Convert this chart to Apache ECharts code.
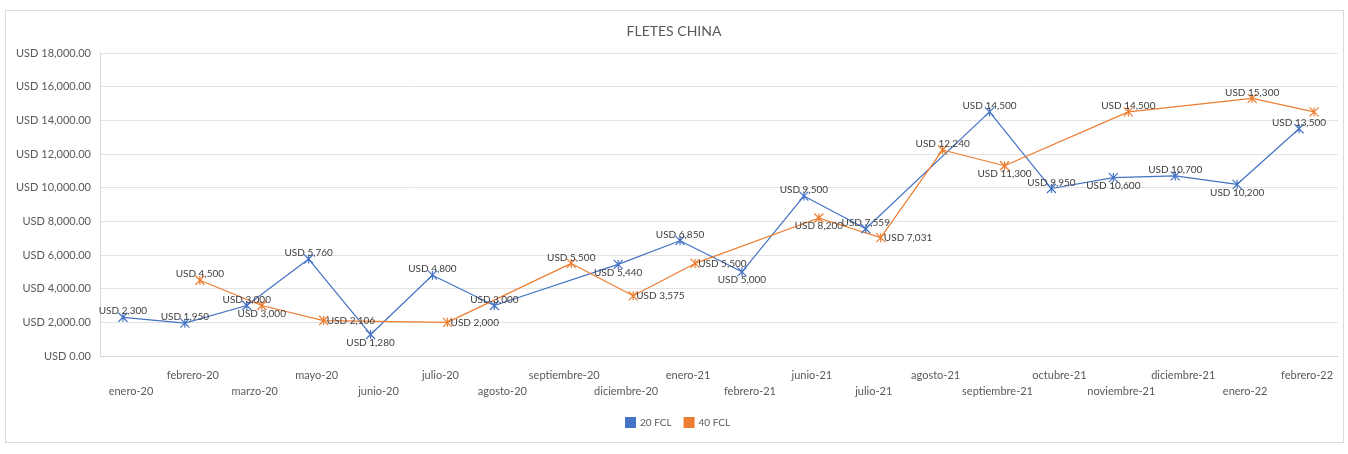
<!DOCTYPE html>
<html>
<head>
<meta charset="utf-8">
<title>FLETES CHINA</title>
<script src="https://cdn.jsdelivr.net/npm/echarts@6/dist/echarts.min.js"></script>
<style>
  html, body { margin: 0; padding: 0; background: #fff; }
  #frame { position: absolute; left: 5px; top: 10px; width: 1337px; height: 431px; border: 1px solid #dadada; }
  #chart { position: absolute; left: 0; top: 0; width: 1348px; height: 454px; }
</style>
</head>
<body>
<div id="frame"></div>
<div id="chart"></div>
<script>
// meses (eje X)
const meses = [
  "enero-20", "febrero-20", "marzo-20", "mayo-20", "junio-20", "julio-20",
  "agosto-20", "septiembre-20", "diciembre-20", "enero-21", "febrero-21",
  "junio-21", "julio-21", "agosto-21", "septiembre-21", "octubre-21",
  "noviembre-21", "diciembre-21", "enero-22", "febrero-22"
];
// contenedor de 20 pies
const fcl20 = [2300, 1950, 3000, 5760, 1280, 4800, 3000, null, 5440, 6850, 5000,
  9500, 7559, null, 14500, 9950, 10600, 10700, 10200, 13500];
// contenedor de 40 pies
const fcl40 = [null, 4500, 3000, 2106, null, 2000, null, 5500, 3575, 5500, null,
  8200, 7031, 12240, 11300, null, 14500, null, 15300, 14500];
// ticks del eje Y
const yTicks = [0, 2000, 4000, 6000, 8000, 10000, 12000, 14000, 16000, 18000];

// posicion de etiquetas (como en el excel)
const pos20 = ["top", "top", "top", "top", "bottom", "top", "top", "top", "bottom", "top", "bottom",
  "top", "top", "top", "top", "top", "bottom", "top", "bottom", "top"];
const pos40 = ["top", "top", "bottom", "right", "top", "right", "top", "top", "right", "right", "top",
  "bottom", "right", "top", "bottom", "top", "top", "top", "top", "none"];
const distancia = { top: -4, bottom: -2, right: -2 };

const AZUL = "#4472C4";
const NARANJA = "#ED7D31";
const GRIS = "#595959";
const FONT = "Lato, 'Open Sans', sans-serif";
const estrella = "path://M0,0L10,10M10,0L0,10M5,0L5,10";

const usd = v => "USD " + Number(v).toLocaleString("en-US");

function armarDatos(vals, pos) {
  return vals.map((v, i) => ({
    value: v == null ? "-" : v,
    label: pos[i] === "none" ? { show: false } : { position: pos[i], distance: distancia[pos[i]] }
  }));
}

function serie(name, vals, pos, color, idx) {
  return {
    name: name,
    type: "line",
    xAxisIndex: idx,
    yAxisIndex: idx,
    data: armarDatos(vals, pos),
    connectNulls: true,
    symbol: estrella,
    symbolSize: 9,
    lineStyle: { color: color, width: 1.2 },
    itemStyle: { color: color, borderColor: color, borderWidth: 1.2 },
    label: {
      show: true,
      color: "#404040",
      fontSize: 10,
      fontFamily: FONT,
      formatter: p => usd(p.value)
    }
  };
}

const yMax = yTicks[yTicks.length - 1];
const yStep = yTicks[1] - yTicks[0];

const ejeOculto = gi => ({
  type: "category", gridIndex: gi, data: meses, show: false
});
const yOculto = gi => ({
  type: "value", gridIndex: gi, min: 0, max: yMax, interval: yStep, show: false
});

const chart = echarts.init(document.getElementById("chart"));
chart.setOption({
  animation: false,
  backgroundColor: "transparent",
  title: {
    text: "FLETES CHINA",
    left: "center",
    top: 19,
    textStyle: { color: GRIS, fontSize: 14, fontWeight: "normal", fontFamily: FONT }
  },
  legend: {
    data: ["20 FCL", "40 FCL"],
    left: 620,
    top: 412,
    icon: "rect",
    itemWidth: 9,
    itemHeight: 9,
    itemGap: 12,
    textStyle: { color: GRIS, fontSize: 10, fontFamily: FONT }
  },
  // grid 0: ejes visibles; 1 y 2: desplazados como en excel
  grid: [
    { left: 100, right: 10, top: 53, bottom: 98 },
    { left: 92, right: 18, top: 53, bottom: 98 },
    { left: 107, right: 3, top: 53, bottom: 98 }
  ],
  xAxis: [
    {
      type: "category",
      gridIndex: 0,
      data: meses,
      boundaryGap: true,
      axisLine: { lineStyle: { color: "#d9d9d9" } },
      axisTick: { show: false },
      axisLabel: {
        interval: 0,
        margin: 11,
        color: GRIS,
        fontSize: 11,
        fontFamily: FONT,
        lineHeight: 16,
        formatter: (v, i) => (i % 2 === 0 ? "\n" + v : v)
      }
    },
    ejeOculto(1),
    ejeOculto(2)
  ],
  yAxis: [
    {
      type: "value",
      gridIndex: 0,
      min: 0,
      max: yMax,
      interval: yStep,
      axisLine: { show: true, lineStyle: { color: "#d9d9d9" } },
      axisTick: { show: false },
      splitLine: { lineStyle: { color: "#e3e3e3" } },
      axisLabel: {
        margin: 9,
        color: GRIS,
        fontSize: 11,
        fontFamily: FONT,
        formatter: v => "USD " + v.toLocaleString("en-US", { minimumFractionDigits: 2 })
      }
    },
    yOculto(1),
    yOculto(2)
  ],
  series: [
    serie("20 FCL", fcl20, pos20, AZUL, 1),
    serie("40 FCL", fcl40, pos40, NARANJA, 2)
  ]
});
</script>
</body>
</html>
